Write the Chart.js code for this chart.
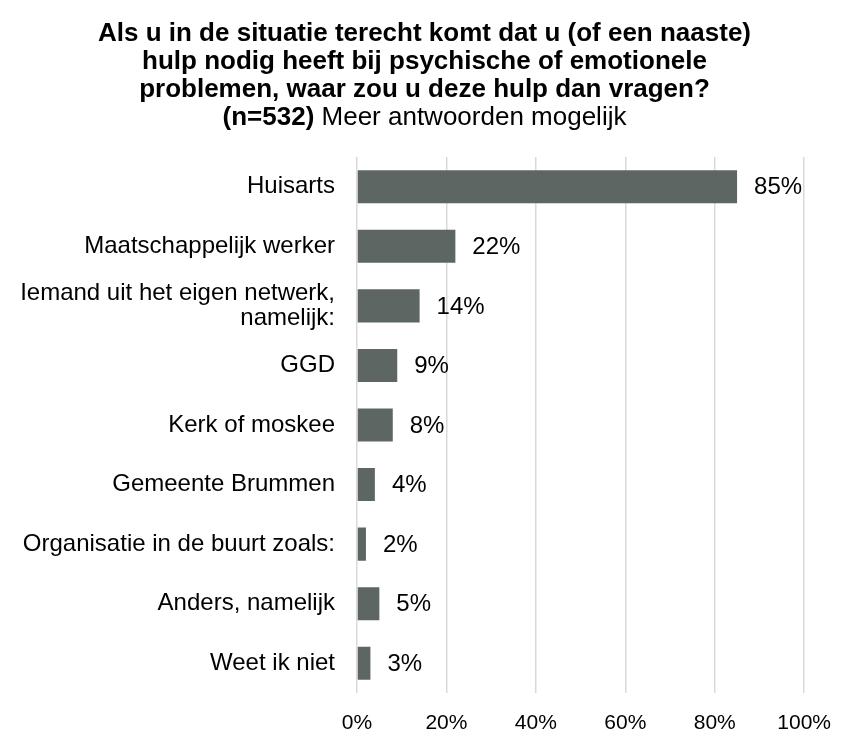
<!DOCTYPE html>
<html>
<head>
<meta charset="utf-8">
<script src="https://cdn.jsdelivr.net/npm/chart.js@4/dist/chart.umd.min.js"></script>
<style>
  html, body { margin: 0; padding: 0; background: #ffffff; }
  #wrap { position: relative; width: 849px; height: 734px; }
  #title {
    position: absolute; left: 0; top: 18px; width: 849px;
    text-align: center; font-family: "Liberation Sans", Arial, sans-serif;
    font-size: 26px; line-height: 28px; color: #000; font-weight: bold;
  }
  #title .n { font-weight: normal; }
  canvas { position: absolute; left: 0; top: 0; }
</style>
</head>
<body>
<div id="wrap">
  <canvas id="c" width="849" height="734"></canvas>
  <div id="title">Als u in de situatie terecht komt dat u (of een naaste)<br>hulp nodig heeft bij psychische of emotionele<br>problemen, waar zou u deze hulp dan vragen?<br>(n=532)<span class="n"> Meer antwoorden mogelijk</span></div>
</div>
<script>
const categories = [
  "Huisarts",
  "Maatschappelijk werker",
  ["Iemand uit het eigen netwerk,", "namelijk:"],
  "GGD",
  "Kerk of moskee",
  "Gemeente Brummen",
  "Organisatie in de buurt zoals:",
  "Anders, namelijk",
  "Weet ik niet"
];
const values = [85, 22, 14, 9, 8, 4, 2, 5, 3];
const tickValues = [0, 20, 40, 60, 80, 100];

const valueLabels = {
  id: 'valueLabels',
  afterDatasetsDraw(chart) {
    const ctx = chart.ctx;
    const meta = chart.getDatasetMeta(0);
    ctx.save();
    ctx.font = '24px "Liberation Sans", Arial, sans-serif';
    ctx.fillStyle = '#000000';
    ctx.textAlign = 'left';
    ctx.textBaseline = 'middle';
    meta.data.forEach((bar, i) => {
      ctx.fillText(values[i] + '%', bar.x + 17, bar.y + 1);
    });
    ctx.restore();
  }
};

new Chart(document.getElementById('c'), {
  type: 'bar',
  data: {
    labels: categories,
    datasets: [{
      data: values,
      backgroundColor: '#5e6664',
      borderWidth: 0,
      categoryPercentage: 1.0,
      barPercentage: 0.555
    }]
  },
  options: {
    indexAxis: 'y',
    responsive: false,
    animation: false,
    layout: { padding: { top: 157, right: 42, bottom: 0, left: 0 } },
    plugins: { legend: { display: false }, tooltip: { enabled: false }, title: { display: false } },
    scales: {
      x: {
        min: 0, max: 100,
        afterBuildTicks(scale) { scale.ticks = tickValues.map(v => ({ value: v })); },
        afterFit(scale) { scale.height = 41; },
        ticks: {
          callback: (v) => v + '%',
          color: '#000000',
          font: { family: '"Liberation Sans", Arial, sans-serif', size: 21 },
          padding: 18,
          maxRotation: 0
        },
        grid: { color: '#d9d9d9', lineWidth: 1.5, drawTicks: false },
        border: { display: false }
      },
      y: {
        afterFit(scale) { scale.width = 357; },
        ticks: {
          color: '#000000',
          font: { family: '"Liberation Sans", Arial, sans-serif', size: 24, lineHeight: 1.05 },
          padding: 22
        },
        grid: { display: false, drawTicks: false },
        border: { display: false }
      }
    }
  },
  plugins: [valueLabels]
});
</script>
</body>
</html>
